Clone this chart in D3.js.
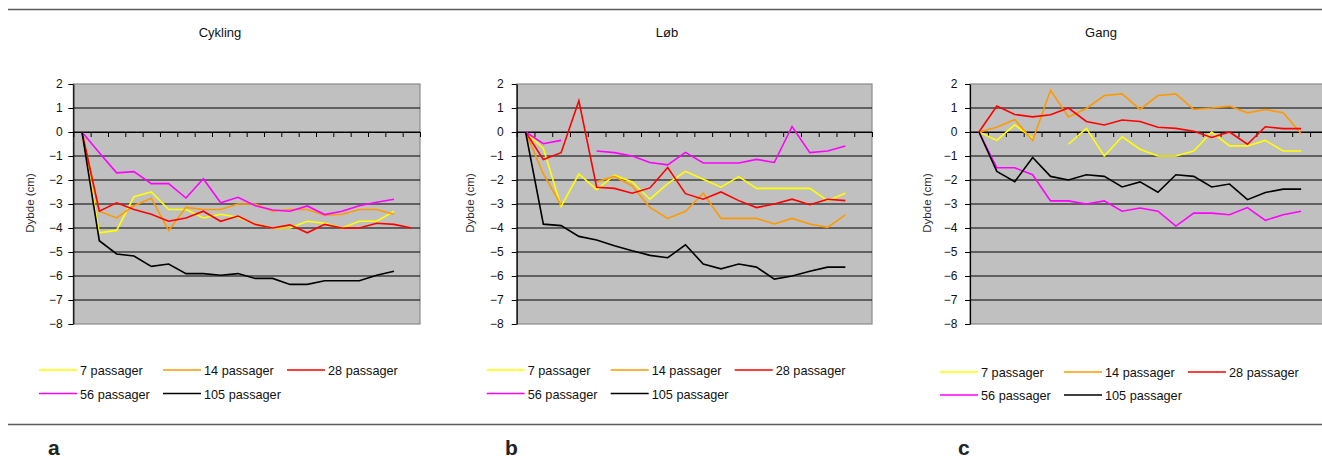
<!DOCTYPE html>
<html><head><meta charset="utf-8">
<script src="https://cdn.jsdelivr.net/npm/d3@7"></script>
<style>html,body{margin:0;padding:0;background:#fff;overflow:hidden}</style>
</head><body><svg id="chart" width="1322" height="459"></svg>
<script>
// ---------- data ----------
const categories = [1,2,3,4,5,6,7,8,9,10,11,12,13,14,15,16,17,18,19,20];
const yTickValues = [2,1,0,-1,-2,-3,-4,-5,-6,-7,-8];
const seriesNames = ["7 passager","14 passager","28 passager","56 passager","105 passager"];
const panelTitles = ["Cykling","Løb","Gang"];
const panelLetters = ["a","b","c"];
const yAxisLabel = "Dybde (cm)";

const cyk7   = [0,-4.2,-4.1,-2.7,-2.5,-3.23,-3.23,-3.58,-3.43,-3.55,-3.83,-4.0,-4.0,-3.72,-3.8,-4.0,-3.72,-3.72,-3.3];
const cyk14  = [0,-3.3,-3.58,-3.07,-2.76,-4.1,-3.14,-3.23,-3.23,-3.0,-3.0,-3.3,-3.23,-3.23,-3.47,-3.43,-3.23,-3.23,-3.43];
const cyk28  = [0,-3.3,-2.95,-3.23,-3.43,-3.72,-3.58,-3.3,-3.72,-3.5,-3.85,-4.0,-3.87,-4.2,-3.85,-4.0,-4.0,-3.8,-3.85,-4.0];
const cyk56  = [0,-0.86,-1.7,-1.65,-2.15,-2.15,-2.75,-1.95,-2.95,-2.72,-3.07,-3.25,-3.3,-3.08,-3.44,-3.3,-3.07,-2.93,-2.8];
const cyk105 = [0,-4.53,-5.08,-5.17,-5.6,-5.5,-5.9,-5.9,-5.97,-5.9,-6.1,-6.1,-6.35,-6.35,-6.2,-6.2,-6.2,-5.97,-5.8];

const lob7   = [0,-0.69,-3.1,-1.75,-2.4,-1.8,-2.08,-2.8,-2.15,-1.64,-1.97,-2.3,-1.86,-2.35,-2.35,-2.35,-2.35,-2.86,-2.55];
const lob14  = [0,-1.75,-3.05,null,-2.07,-1.85,-2.25,-3.14,-3.6,-3.3,-2.55,-3.6,-3.6,-3.6,-3.83,-3.6,-3.83,-3.97,-3.45];
const lob28  = [0,-1.15,-0.86,1.3,-2.3,-2.35,-2.55,-2.33,-1.48,-2.57,-2.8,-2.5,-2.86,-3.15,-3.0,-2.8,-3.03,-2.8,-2.86];
const lob56  = [0,-0.49,-0.35,null,-0.79,-0.86,-1.0,-1.27,-1.37,-0.85,-1.29,-1.29,-1.29,-1.14,-1.27,0.23,-0.86,-0.79,-0.58];
const lob105 = [0,-3.84,-3.9,-4.35,-4.5,-4.74,-4.95,-5.14,-5.24,-4.7,-5.5,-5.7,-5.5,-5.63,-6.13,-6.0,-5.8,-5.63,-5.63];

const gang7   = [0,-0.35,0.3,-0.26,null,-0.51,0.15,-1.0,-0.2,-0.72,-1.0,-1.0,-0.79,0.0,-0.58,-0.58,-0.35,-0.79,-0.79];
const gang14  = [0,0.2,0.52,-0.35,1.74,0.63,0.98,1.52,1.59,0.94,1.52,1.59,0.94,1.0,1.08,0.8,0.94,0.8,-0.07];
const gang28  = [0,1.08,0.73,0.63,0.72,1.0,0.44,0.29,0.5,0.44,0.2,0.15,0.03,-0.23,0.0,-0.51,0.22,0.14,0.14];
const gang56  = [0,-1.49,-1.49,-1.78,-2.87,-2.87,-3.0,-2.87,-3.3,-3.17,-3.3,-3.92,-3.38,-3.38,-3.45,-3.15,-3.68,-3.45,-3.3];
const gang105 = [0,-1.64,-2.07,-1.06,-1.85,-2.0,-1.78,-1.85,-2.29,-2.08,-2.51,-1.78,-1.85,-2.29,-2.17,-2.82,-2.52,-2.38,-2.38];

const panelSeries = [
  [cyk7, cyk14, cyk28, cyk56, cyk105],
  [lob7, lob14, lob28, lob56, lob105],
  [gang7, gang14, gang28, gang56, gang105]
];

// ---------- styles / layout ----------
const seriesColors = ["#ffff00","#ff9900","#ff0000","#ff00ff","#000000"];
const layout = [
  {x0:73.3,  x1:420,  titleX:220,  ylabX:30,  labGap:10.5, legendX:39,    legendY:[370,393.5], letterX:48},
  {x0:516.7, x1:872,  titleX:667,  ylabX:470, labGap:13,   legendX:486.7, legendY:[370,393.5], letterX:505},
  {x0:970,   x1:1328, titleX:1101, ylabX:927, labGap:12.5, legendX:940,   legendY:[372,395],   letterX:958}
];
const yTop = 84, yBot = 324;

function hasFont(name){
  const c = document.createElement("canvas").getContext("2d");
  const s = "7 passager Dybde (cm)";
  c.font = "40px monospace"; const a = c.measureText(s).width;
  c.font = "40px '" + name + "', monospace"; const b = c.measureText(s).width;
  return Math.abs(a-b) > 0.5;
}
const narrow = hasFont("Liberation Sans Narrow");
const condFamily = narrow ? "'Liberation Sans Narrow'" : "'Liberation Sans', Arial";
const legendSize = narrow ? 15 : 12.7;
const titleSize = narrow ? 15 : 13;
const regFamily = "'Liberation Sans', Arial, sans-serif";

const svg = d3.select("#chart");

// separators
svg.append("line").attr("x1",8).attr("x2",1322).attr("y1",9.5).attr("y2",9.5)
  .attr("stroke","#5a5a5a").attr("stroke-width",1.3);
svg.append("line").attr("x1",8).attr("x2",1322).attr("y1",424.5).attr("y2",424.5)
  .attr("stroke","#5a5a5a").attr("stroke-width",1.3);

panelSeries.forEach((seriesList, p) => {
  const L = layout[p];
  const g = svg.append("g");
  const x = d3.scaleBand().domain(categories).range([L.x0, L.x1]).padding(0);
  const xb = d3.scaleLinear().domain([0, categories.length]).range([L.x0, L.x1]);
  const y = d3.scaleLinear().domain([d3.min(yTickValues), d3.max(yTickValues)]).range([yBot, yTop]);

  // plot area
  g.append("rect").attr("x",L.x0).attr("y",yTop).attr("width",L.x1-L.x0).attr("height",yBot-yTop)
    .attr("fill","#c0c0c0").attr("stroke","#8a8a8a").attr("stroke-width",1.2);

  // gridlines
  g.selectAll(".grid").data(yTickValues.filter(v => v !== d3.max(yTickValues) && v !== d3.min(yTickValues)))
    .enter().append("line")
    .attr("x1",L.x0).attr("x2",L.x1).attr("y1",d=>y(d)).attr("y2",d=>y(d))
    .attr("stroke","#000").attr("stroke-width",1);

  // x axis at zero (category boundary ticks)
  const xAxis = g.append("g").attr("transform",`translate(0,${y(0)})`)
    .call(d3.axisBottom(xb).tickValues(d3.range(0, categories.length + 1)).tickSize(5).tickSizeOuter(0).tickFormat(""));
  xAxis.select(".domain").attr("stroke","#000");
  xAxis.selectAll(".tick line").attr("stroke","#000");

  // y axis
  const yAxis = g.append("g").attr("transform",`translate(${L.x0},0)`)
    .call(d3.axisLeft(y).tickValues(yTickValues).tickSize(5).tickSizeOuter(0).tickPadding(L.labGap-5).tickFormat(d3.format("d")));
  yAxis.select(".domain").attr("stroke","#000").attr("stroke-width",1.2);
  yAxis.selectAll(".tick line").attr("stroke","#000");
  yAxis.selectAll(".tick text").attr("fill","#111").style("font-family",regFamily).style("font-size","12px");

  // series
  const line = d3.line()
    .defined(d => d !== null && d !== undefined)
    .x((d,i) => x(categories[i]) + x.bandwidth()/2)
    .y(d => y(d));
  seriesList.forEach((vals, s) => {
    g.append("path").datum(vals).attr("d", line)
      .attr("fill","none").attr("stroke", seriesColors[s]).attr("stroke-width",1.6)
      .attr("stroke-linejoin","miter");
  });

  // title
  g.append("text").attr("x",L.titleX).attr("y",37).attr("text-anchor","middle")
    .style("font-family",condFamily).style("font-size",titleSize+"px").attr("fill","#111")
    .text(panelTitles[p]);

  // y label
  g.append("text").attr("transform",`translate(${L.ylabX+4},203) rotate(-90)`)
    .attr("text-anchor","middle").style("font-family",regFamily).style("font-size","11.5px")
    .attr("fill","#333").text(yAxisLabel);

  // legend
  seriesNames.forEach((name, s) => {
    const col = s % 3, row = Math.floor(s / 3);
    const lx = L.legendX + col * 124, ly = L.legendY[row];
    g.append("line").attr("x1",lx).attr("x2",lx+38).attr("y1",ly).attr("y2",ly)
      .attr("stroke",seriesColors[s]).attr("stroke-width",1.6);
    g.append("text").attr("x",lx+41).attr("y",ly+5).style("font-family",condFamily)
      .style("font-size",legendSize+"px").attr("fill","#111").text(name);
  });

  // panel letter
  g.append("text").attr("x",L.letterX).attr("y",455).style("font-family",regFamily)
    .style("font-size","21px").style("font-weight","bold").attr("fill","#222").text(panelLetters[p]);
});
</script>
</body></html>
